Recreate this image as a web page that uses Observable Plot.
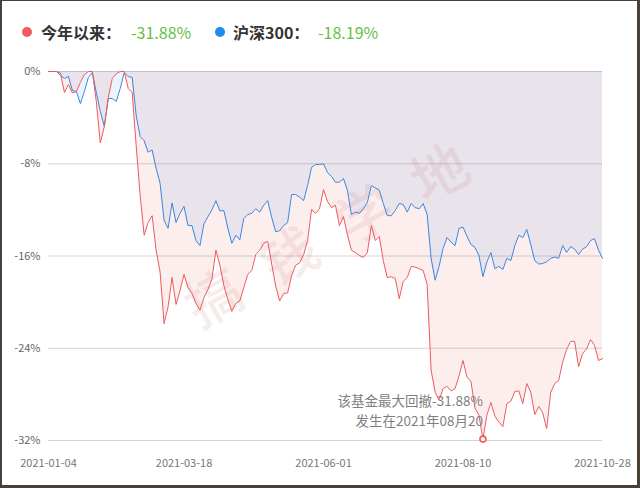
<!DOCTYPE html>
<html>
<head>
<meta charset="utf-8">
<script src="https://cdn.jsdelivr.net/npm/d3@7"></script>
<script src="https://cdn.jsdelivr.net/npm/@observablehq/plot@0.6"></script>
<style>
  html, body { margin: 0; padding: 0; background: #fff; }
  #frame { position: relative; width: 640px; height: 488px; overflow: hidden; background: #fff;
           font-family: "Noto Sans CJK SC", "Noto Sans", sans-serif; }
  #legend { position: relative; height: 56px; }
  .dot { position: absolute; width: 10px; height: 10px; border-radius: 50%; top: 27px; }
  .lab { position: absolute; top: 21px; font-size: 16px; line-height: 22px; white-space: nowrap; }
  .name { font-weight: bold; color: #333; }
  .val { color: #67bf45; }
  #chart svg { display: block; overflow: visible; }
  #wm { position: absolute; left: 325px; top: 232px; width: 0; height: 0; pointer-events: none; }
  #wm span { position: absolute; transform: translate(-50%, -50%) rotate(-29deg); white-space: nowrap;
             font-size: 56px; letter-spacing: 30px; padding-left: 30px; color: rgba(190, 100, 100, 0.12); font-weight: 500; }
  #border { position: absolute; left: 0; top: 0; width: 640px; height: 488px; box-sizing: border-box;
            border-style: solid; border-color: #4a403a; border-width: 1px 3px 3px 2px; pointer-events: none; }
</style>
</head>
<body>
<div id="frame">
  <div id="legend"></div>
  <div id="chart"></div>
  <div id="wm"></div>
  <div id="border"></div>
</div>
<script>
// ---- data (drawdown, %) ----
const fund = [
  0,0,0,-0.13,-1.82,-1.13,-1.86,-1.73,-0.95,-0.26,
  0,0,-2.6,-6.2,-4.77,-2.25,-0.6,-0.2,0,0,
  -1.47,-1.82,-6.42,-10.75,-14.2,-13.1,-12.5,-15.5,-17.4,-21.86,
  -20.4,-17.87,-20.2,-19.0,-17.6,-18.73,-19.25,-20.1,-20.7,-19.6,
  -18.9,-18.0,-15.5,-16.8,-18.56,-19.77,-20.8,-20.1,-19.9,-18.73,
  -17.6,-17.26,-15.87,-15.5,-14.9,-14.74,-16.7,-18.6,-19.9,-19.25,
  -19.2,-17.7,-16.8,-16.6,-15.9,-14.66,-11.97,-12.3,-11.9,-10.23,
  -11.27,-11.8,-11.6,-13.36,-12.58,-14.14,-15.5,-15.7,-15.96,-16.13,
  -15.7,-13.36,-14.66,-14.31,-16.4,-17.87,-17.8,-17.95,-19.7,-18.2,
  -17.87,-16.9,-16.96,-17.1,-17.26,-18.47,-25.9,-27.8,-28.5,-27.5,
  -27.3,-27.7,-27.5,-26.4,-25.06,-26.5,-26.9,-29.2,-29.8,-31.88,
  -29.8,-28.7,-29.9,-30.4,-30.8,-28.8,-28.6,-27.75,-27.7,-28.8,
  -27.06,-27.8,-29.75,-29.05,-29.6,-30.96,-27.84,-27.06,-26.8,-25.2,
  -24.1,-23.4,-23.4,-25.6,-24.46,-24.07,-23.24,-23.76,-25.06,-24.9
];
const hs300 = [
  0,0,0,-0.35,-0.6,-0.43,-1.65,-1.73,-2.78,-1.73,
  -0.52,-0.09,-1.82,-3.47,-4.77,-2.34,-2.34,-2.6,-1.47,-0.09,
  -0.43,-0.52,-3.8,-5.64,-6.0,-7.0,-6.8,-8.4,-9.7,-12.9,
  -13.6,-11.4,-13.1,-12.3,-11.7,-13.36,-13.36,-14.66,-15.1,-13.2,
  -12.6,-12.0,-11.2,-12.1,-12.06,-13.6,-14.9,-14.2,-14.6,-12.75,
  -12.4,-12.3,-11.9,-12.2,-11.6,-11.2,-12.66,-13.9,-13.8,-13.36,
  -13.1,-10.67,-10.67,-10.9,-11.2,-9.9,-8.3,-8.07,-8.07,-8.0,
  -8.76,-9.1,-9.6,-9.6,-9.28,-10.3,-12.4,-12.2,-12.3,-11.9,
  -11.36,-9.9,-10.1,-10.3,-11.45,-12.5,-12.5,-12.06,-11.45,-11.53,
  -12.2,-11.45,-11.8,-11.9,-11.45,-12.4,-16.2,-18.1,-16.9,-15.35,
  -14.4,-14.8,-15.1,-13.6,-13.5,-14.3,-15.0,-15.26,-15.96,-17.8,
  -16.5,-15.7,-17.1,-16.9,-17.17,-16.2,-16.4,-15.1,-14.2,-14.4,
  -13.7,-15.0,-16.4,-16.7,-16.65,-16.5,-16.2,-16.1,-16.2,-15.1,
  -15.7,-15.18,-15.4,-15.87,-15.4,-15.2,-14.66,-14.5,-15.5,-16.2
];
const xTickIndex = [0, 34, 69, 104, 139];
const xTickLabels = ["2021-01-04", "2021-03-18", "2021-06-01", "2021-08-10", "2021-10-28"];
const yTicks = [0, -8, -16, -24, -32];
const seriesNames = ["今年以来：", "沪深300："];
const seriesValues = ["-31.88%", "-18.19%"];
const seriesColors = ["#ee5a5c", "#3a86e0"];
const dotColors = ["#f25b5b", "#2389ee"];
const noteLines = ["该基金最大回撤-31.88%", "发生在2021年08月20"];
const watermark = "搞钱学地";

// ---- legend ----
const legendPos = [{dot: 21.5, name: 41, val: 131}, {dot: 215, name: 233, val: 318}];
const legend = document.getElementById("legend");
seriesNames.forEach((n, k) => {
  const p = legendPos[k];
  legend.insertAdjacentHTML("beforeend",
    `<div class="dot" style="left:${p.dot}px;background:${dotColors[k]}"></div>` +
    `<div class="lab name" style="left:${p.name}px">${n}</div>` +
    `<div class="lab val" style="left:${p.val}px">${seriesValues[k]}</div>`);
});

// ---- chart ----
const fundData = fund.map((v, i) => ({i, v}));
const hsData = hs300.map((v, i) => ({i, v}));
const minIdx = d3.minIndex(fund);
const minPoint = [{i: minIdx, v: fund[minIdx]}];

const chart = Plot.plot({
  width: 640,
  height: 429,
  marginTop: 15,
  marginBottom: 45,
  marginLeft: 48,
  marginRight: 38,
  style: {fontFamily: "'Noto Sans CJK SC', 'Noto Sans', sans-serif", fontSize: "11px", color: "#666", background: "transparent"},
  x: {domain: [0, fund.length - 1], label: null},
  y: {domain: [-32, 0], label: null},
  marks: [
    Plot.gridY(yTicks, {stroke: "#d4d4d4", strokeOpacity: 1}),
    Plot.areaY(fundData, {x: "i", y1: 0, y2: "v", fill: seriesColors[0], fillOpacity: 0.1}),
    Plot.areaY(hsData, {x: "i", y1: 0, y2: "v", fill: seriesColors[1], fillOpacity: 0.1}),
    Plot.line(hsData, {x: "i", y: "v", stroke: seriesColors[1], strokeWidth: 1}),
    Plot.line(fundData, {x: "i", y: "v", stroke: seriesColors[0], strokeWidth: 1}),
    Plot.text(minPoint, {x: "i", y: "v", text: () => noteLines[0], textAnchor: "end",
      dy: -37, fontSize: 13.5, fill: "#7f7f7f"}),
    Plot.text(minPoint, {x: "i", y: "v", text: () => noteLines[1], textAnchor: "end",
      dy: -17, fontSize: 13.5, fill: "#7f7f7f"}),
    Plot.dot(minPoint, {x: "i", y: "v", r: 3, stroke: "#ee5a5c", strokeWidth: 1.6, fill: "#fff"}),
    Plot.axisY({ticks: yTicks, tickSize: 0, tickPadding: 8, tickFormat: d => `${d}%`, fill: "#666", fontSize: 11, label: null}),
    Plot.axisX({ticks: xTickIndex, tickSize: 0, tickPadding: 19, label: null,
      tickFormat: d => xTickLabels[xTickIndex.indexOf(d)], fill: "#777", fontSize: 11})
  ]
});
document.getElementById("chart").appendChild(chart);

// ---- watermark ----
document.getElementById("wm").innerHTML = `<span>${watermark}</span>`;
</script>
</body>
</html>
